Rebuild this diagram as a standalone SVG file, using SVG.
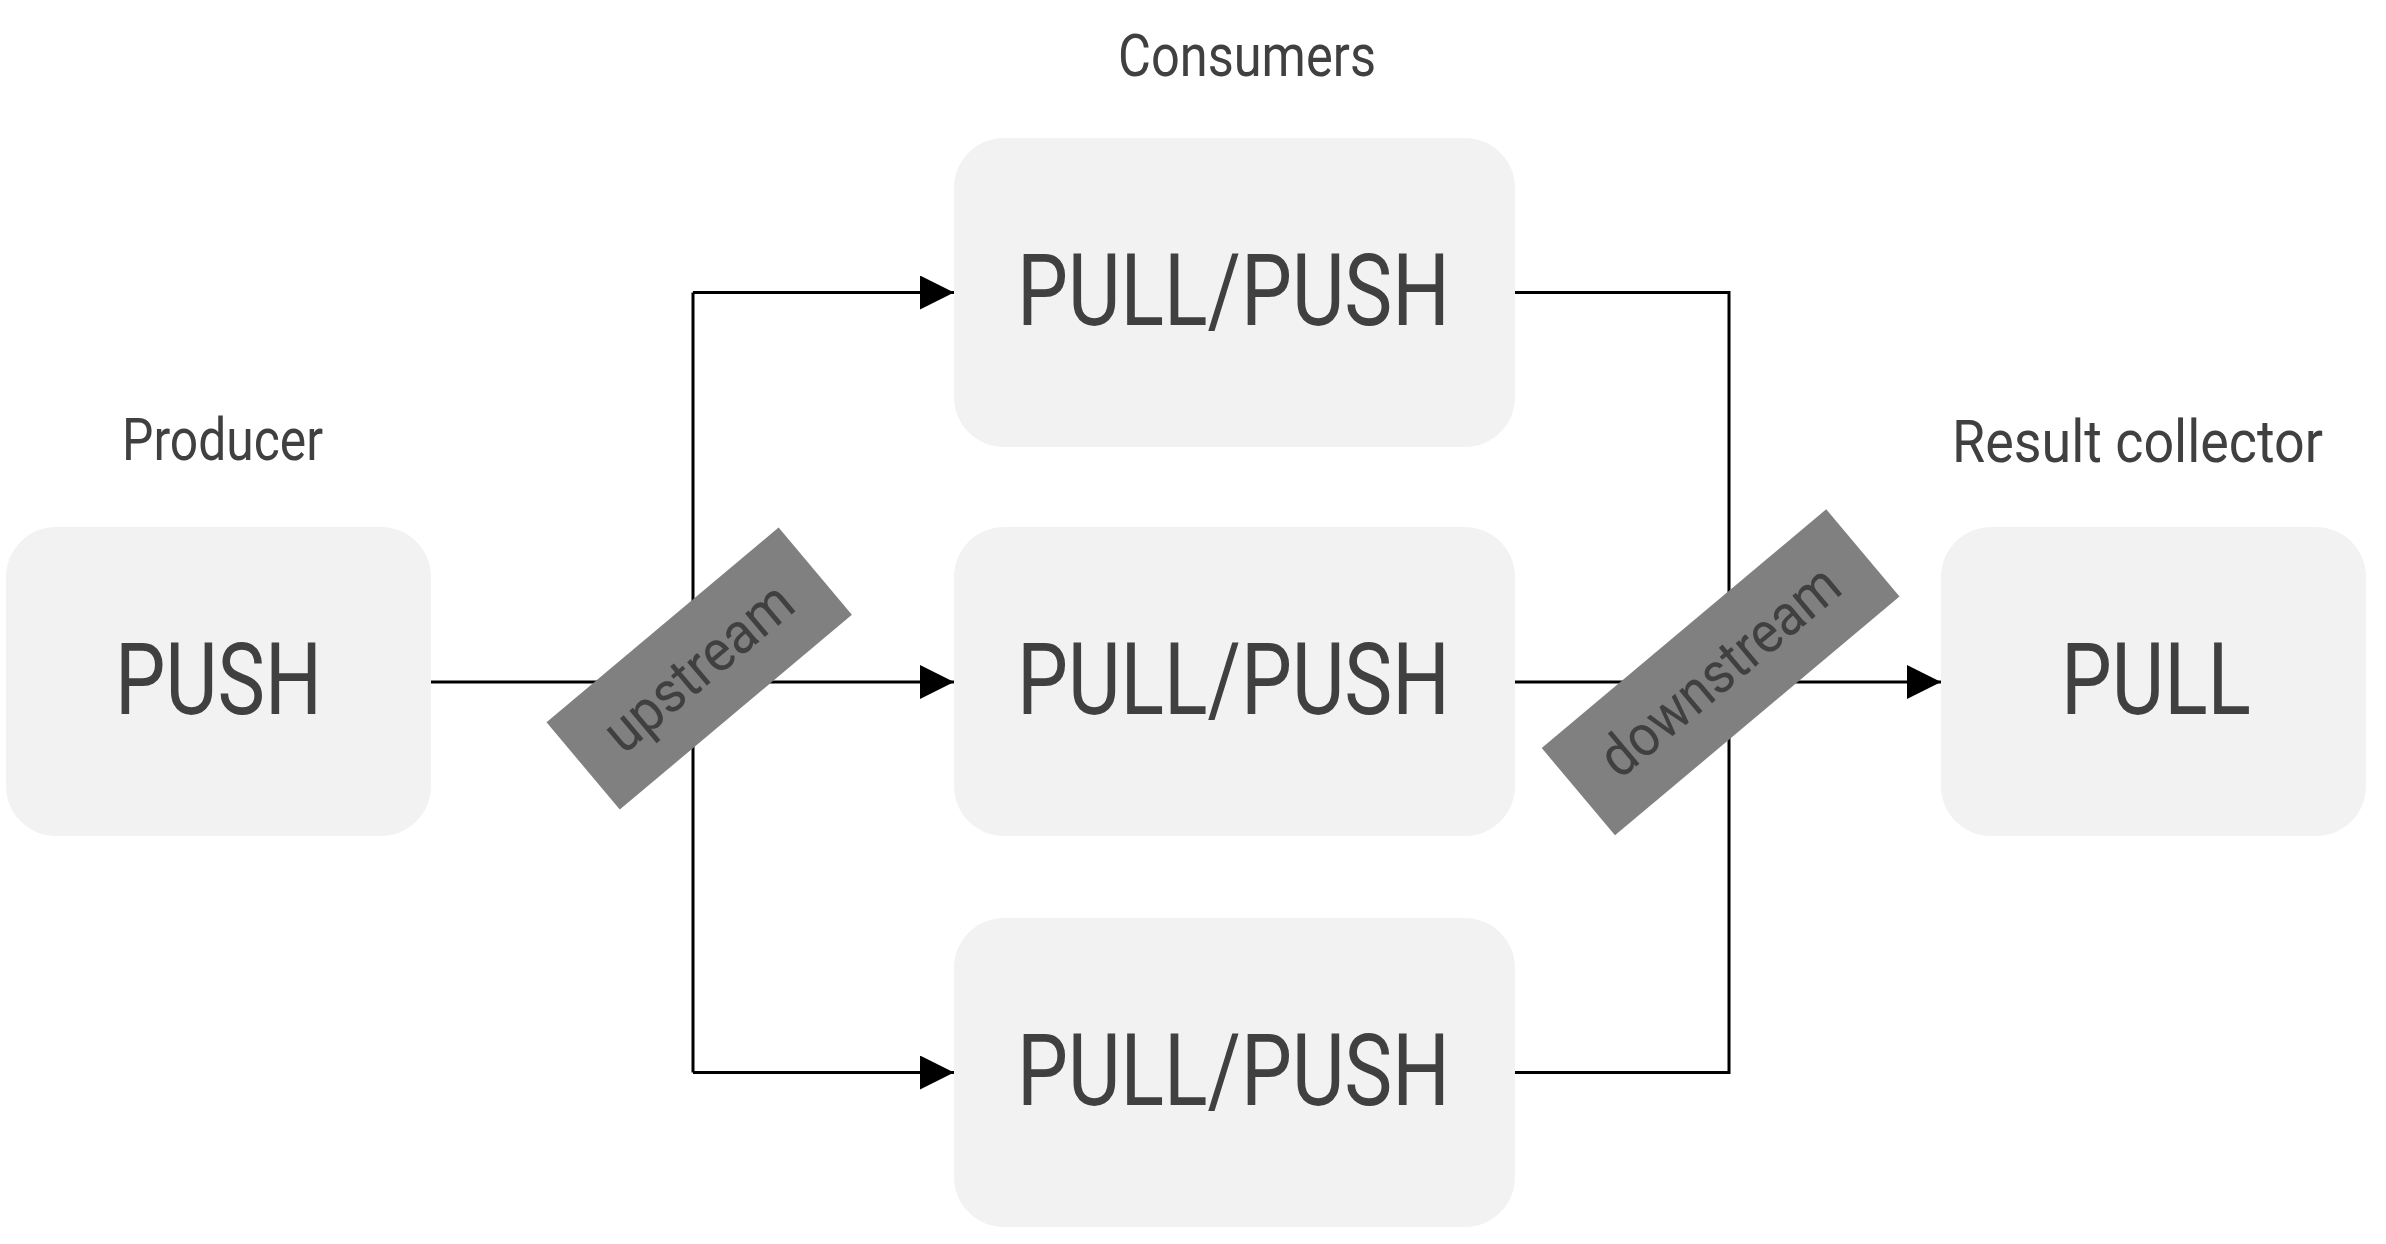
<svg xmlns="http://www.w3.org/2000/svg" width="2386" height="1244" viewBox="0 0 2386 1244">
<defs>
<style>
.box{fill:#f2f2f2}
.big{font-family:Roboto,"Liberation Sans",sans-serif;font-size:101px;fill:#404040;text-anchor:middle}
.cap{font-family:Roboto,"Liberation Sans",sans-serif;font-size:59px;fill:#404040;text-anchor:middle}
.tag{fill:#808080}
.tagt{font-family:Roboto,"Liberation Sans",sans-serif;font-size:58px;fill:#404040;text-anchor:middle}
.ln{fill:none;stroke:#000;stroke-width:3}
</style>
<marker id="ah" markerUnits="userSpaceOnUse" markerWidth="34" markerHeight="34" viewBox="0 0 33 33" refX="33" refY="16.5" orient="auto">
<path d="M0,0 L33,16.5 L0,33 z" fill="#000"/>
</marker>
</defs>
<rect width="2386" height="1244" fill="#fff"/>
<text class="cap" x="1247" y="76" textLength="258" lengthAdjust="spacingAndGlyphs">Consumers</text>
<text class="cap" x="222.5" y="460" textLength="201" lengthAdjust="spacingAndGlyphs">Producer</text>
<text class="cap" x="2137.5" y="461.5" textLength="371" lengthAdjust="spacingAndGlyphs">Result collector</text>
<g id="connectors">
<path class="ln" d="M431,682 H954" marker-end="url(#ah)"/>
<path class="ln" d="M693,292.5 V1072.5"/>
<path class="ln" d="M693,292.5 H954" marker-end="url(#ah)"/>
<path class="ln" d="M693,1072.5 H954" marker-end="url(#ah)"/>
<path class="ln" d="M1515,292.5 H1729 V1072.5 H1515"/>
<path class="ln" d="M1515,682 H1941" marker-end="url(#ah)"/>
</g>
<g id="producer">
<rect class="box" x="6" y="527" width="425" height="309" rx="50" ry="50"/>
<text class="big" x="218.5" y="714" textLength="207" lengthAdjust="spacingAndGlyphs">PUSH</text>
</g>
<g id="consumer1">
<rect class="box" x="954" y="138" width="561" height="309" rx="50" ry="50"/>
<text class="big" x="1233.5" y="325" textLength="433" lengthAdjust="spacingAndGlyphs">PULL/PUSH</text>
</g>
<g id="consumer2">
<rect class="box" x="954" y="527" width="561" height="309" rx="50" ry="50"/>
<text class="big" x="1233.5" y="714" textLength="433" lengthAdjust="spacingAndGlyphs">PULL/PUSH</text>
</g>
<g id="consumer3">
<rect class="box" x="954" y="918" width="561" height="309" rx="50" ry="50"/>
<text class="big" x="1233.5" y="1105" textLength="433" lengthAdjust="spacingAndGlyphs">PULL/PUSH</text>
</g>
<g id="collector">
<rect class="box" x="1941" y="527" width="425" height="309" rx="50" ry="50"/>
<text class="big" x="2156" y="714" textLength="190" lengthAdjust="spacingAndGlyphs">PULL</text>
</g>
<g id="upstream" transform="translate(699.2,668.5) rotate(-40)">
<rect class="tag" x="-151.5" y="-57" width="303" height="114"/>
<text class="tagt" x="0" y="18" textLength="228" lengthAdjust="spacingAndGlyphs">upstream</text>
</g>
<g id="downstream" transform="translate(1720.6,672.3) rotate(-40)">
<rect class="tag" x="-185.7" y="-57" width="371.4" height="114"/>
<text class="tagt" x="0" y="18" textLength="294" lengthAdjust="spacingAndGlyphs">downstream</text>
</g>
</svg>
